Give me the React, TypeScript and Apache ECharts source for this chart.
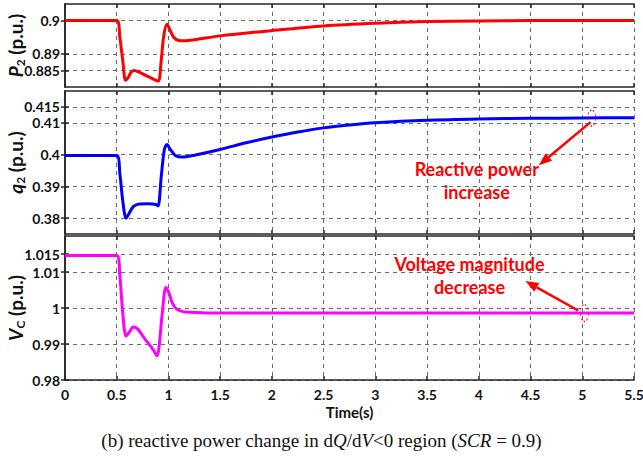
import React, { useEffect, useRef } from 'react';
import * as echarts from 'echarts';

// ---- data ----
const timeP = [0, 0.5, 0.53, 0.56, 0.585, 0.61, 0.64, 0.67, 0.72, 0.8, 0.88, 0.905, 0.93, 0.955, 0.985, 1.01, 1.05, 1.1, 1.15, 1.25, 1.5, 2, 2.5, 3, 3.5, 4, 4.5, 5.5];
const p2 = [0.9, 0.9, 0.895, 0.8875, 0.882, 0.8828, 0.8845, 0.885, 0.8844, 0.8832, 0.882, 0.8818, 0.888, 0.8955, 0.8989, 0.8975, 0.895, 0.894, 0.8939, 0.8942, 0.8954, 0.897, 0.8984, 0.8992, 0.8997, 0.8999, 0.9, 0.9];

const timeQ = [0, 0.5, 0.53, 0.56, 0.59, 0.62, 0.66, 0.71, 0.8, 0.88, 0.9, 0.93, 0.96, 0.985, 1.02, 1.07, 1.13, 1.25, 1.5, 1.75, 2, 2.25, 2.5, 2.75, 3, 3.5, 4, 4.5, 5, 5.5];
const q2 = [0.3997, 0.3997, 0.394, 0.385, 0.38, 0.3815, 0.3836, 0.3844, 0.3845, 0.3843, 0.3838, 0.393, 0.4015, 0.4032, 0.4015, 0.3996, 0.3992, 0.3998, 0.4016, 0.4037, 0.4055, 0.4071, 0.4084, 0.4093, 0.41, 0.4108, 0.4112, 0.4114, 0.4115, 0.4116];

const timeV = [0, 0.5, 0.53, 0.56, 0.59, 0.62, 0.66, 0.7, 0.77, 0.85, 0.89, 0.91, 0.94, 0.975, 1.0, 1.04, 1.08, 1.14, 1.21, 1.4, 5.5];
const vc = [1.0146, 1.0146, 1.009, 0.998, 0.9922, 0.9932, 0.9947, 0.9942, 0.9915, 0.9885, 0.9867, 0.9895, 0.9985, 1.0057, 1.0045, 1.0012, 0.9997, 0.999, 0.9988, 0.9986, 0.9986];

const pTicks = [0.885, 0.89, 0.9];
const qTicks = [0.38, 0.39, 0.4, 0.41, 0.415];
const vTicks = [0.98, 0.99, 1, 1.01, 1.015];

const yNames = ['{i|P}{s|2}{n| (p.u.)}', '{i|q}{s|2}{n| (p.u.)}', '{i|V}{s|C}{n| (p.u.)}'];

// annotations (data coordinates)
const qEllipse = [5.09, 0.4115];
const qArrow = [[5.08, 0.4102], [4.58, 0.3966]];
const qTexts: [number, number, string][] = [[3.98, 0.3953, 'Reactive power'], [3.98, 0.3881, 'increase']];
const vEllipse = [5.02, 0.9986];
const vArrow = [[4.96, 0.9993], [4.45, 1.0075]];
const vTexts: [number, number, string][] = [[3.91, 1.0122, 'Voltage magnitude'], [3.91, 1.0058, 'decrease']];

const FONT = 'Lato';
const AX = '#262626';
const GRIDC = '#6a6a6a';

const fmt = (v: number) => String(+Number(v).toFixed(4));

export default function App() {
  const ref = useRef<HTMLDivElement>(null);
  useEffect(() => {
    const chart = echarts.init(ref.current!, null, { renderer: 'svg' });
    const grids = [
      { left: 65, right: 9, top: 4, height: 83, outerBoundsMode: 'none', containLabel: false },
      { left: 65, right: 9, top: 91, height: 143, outerBoundsMode: 'none', containLabel: false },
      { left: 65, right: 9, top: 236, height: 144, outerBoundsMode: 'none', containLabel: false },
    ];
    const splitDash = { show: true, lineStyle: { color: GRIDC, type: [4, 4] as any, width: 1 } };
    const xAxes: any[] = [];
    const yAxes: any[] = [];
    const yDefs = [
      { min: 0.88, max: 0.905, ticks: pTicks },
      { min: 0.375, max: 0.42, ticks: qTicks },
      { min: 0.98, max: 1.02, ticks: vTicks },
    ];
    const rich = {
      i: { fontFamily: FONT, fontWeight: 'bold', fontStyle: 'italic', fontSize: 19, fill: '#111', lineHeight: 22 },
      s: { fontFamily: FONT, fontWeight: 'bold', fontSize: 12, fill: '#111', lineHeight: 22, verticalAlign: 'bottom', padding: [9, 0, 0, 0] },
      n: { fontFamily: FONT, fontWeight: 'bold', fontSize: 19, fill: '#111', lineHeight: 22 },
    };
    for (let g = 0; g < 3; g++) {
      xAxes.push({
        type: 'value', gridIndex: g, min: 0, max: 5.5, interval: 0.5, position: 'bottom',
        axisLine: { show: true, lineStyle: { color: AX, width: 1.5 } },
        axisTick: { show: true, inside: true, length: 4, lineStyle: { color: AX, width: 1.5 } },
        axisLabel: g === 2 ? { show: true, fontFamily: FONT, fontWeight: 'bold', fontSize: 14, color: '#111', margin: 7, formatter: fmt } : { show: false },
        splitLine: splitDash,
        name: g === 2 ? 'Time(s)' : '',
        nameLocation: 'middle', nameGap: 24,
        nameTextStyle: { fontFamily: FONT, fontWeight: 'bold', fontSize: 15, color: '#111' },
      });
      xAxes.push({
        type: 'value', gridIndex: g, min: 0, max: 5.5, interval: 0.5, position: 'top',
        axisLine: { show: true, lineStyle: { color: AX, width: 1.5 } },
        axisTick: { show: true, inside: true, length: 4, lineStyle: { color: AX, width: 1.5 } },
        axisLabel: { show: false }, splitLine: { show: false },
      });
      const d = yDefs[g];
      yAxes.push({
        type: 'value', gridIndex: g, min: d.min, max: d.max, position: 'left',
        axisLine: { show: true, lineStyle: { color: AX, width: 1.5 } },
        axisTick: { show: true, inside: true, length: 4, customValues: d.ticks, lineStyle: { color: AX, width: 1.5 } },
        axisLabel: { show: true, customValues: d.ticks, fontFamily: FONT, fontWeight: 'bold', fontSize: 14, color: '#111', margin: 5, formatter: fmt },
        splitLine: splitDash,
      });
      yAxes.push({
        type: 'value', gridIndex: g, min: d.min, max: d.max, position: 'right',
        axisLine: { show: true, lineStyle: { color: AX, width: 1.5 } },
        axisTick: { show: true, inside: true, length: 4, customValues: d.ticks, lineStyle: { color: AX, width: 1.5 } },
        axisLabel: { show: false, customValues: d.ticks }, splitLine: { show: false },
      });
    }
    const zip = (t: number[], v: number[]) => t.map((x, i) => [x, v[i]]);
    const ell = (c: number[], size: number[]) => ({
      symbol: 'circle', symbolSize: size, silent: true,
      label: { show: false },
      itemStyle: { color: 'rgba(0,0,0,0)', borderColor: '#ff0000', borderWidth: 1, borderType: [2, 2] },
      data: [{ coord: c }],
    });
    const option: any = {
      animation: false,
      grid: grids,
      xAxis: xAxes,
      yAxis: yAxes,
      title: {
        text: '(b) reactive power change in d{i|Q}/d{i|V}<0 region ({i|SCR} = 0.9)',
        left: 'center', top: 426,
        textStyle: {
          fontFamily: 'Liberation Serif', fontWeight: 'normal', fontSize: 19, color: '#111',
          rich: { i: { fontFamily: 'Liberation Serif', fontStyle: 'italic', fontSize: 19, color: '#111' } },
        },
      },
      series: [
        {
          type: 'line', xAxisIndex: 0, yAxisIndex: 0, data: zip(timeP, p2), showSymbol: false, smooth: 0.3,
          lineStyle: { color: '#ff0000', width: 3 }, itemStyle: { color: '#ff0000' },
        },
        {
          type: 'line', xAxisIndex: 2, yAxisIndex: 2, data: zip(timeQ, q2), showSymbol: false, smooth: 0.3,
          lineStyle: { color: '#0000ff', width: 3 }, itemStyle: { color: '#0000ff' },
          markPoint: ell(qEllipse, [8, 16]),
        },
        {
          type: 'line', xAxisIndex: 4, yAxisIndex: 4, data: zip(timeV, vc), showSymbol: false, smooth: 0.3,
          lineStyle: { color: '#ff00ff', width: 3 }, itemStyle: { color: '#ff00ff' },
          markPoint: ell(vEllipse, [8, 17]),
        },
      ],
    };
    chart.setOption(option);
    const graphics: any[] = [];
    const px = (gi: number, t: number, v: number) =>
      chart.convertToPixel({ xAxisIndex: gi * 2, yAxisIndex: gi * 2 } as any, [t, v]) as number[];
    yDefs.forEach((d, gi) => {
      const p = px(gi, 0, (d.min + d.max) / 2);
      graphics.push({
        type: 'text', x: p[0] - 50, y: p[1], rotation: Math.PI / 2, z: 100,
        style: { text: yNames[gi], rich, align: 'center', verticalAlign: 'middle', fill: '#111', font: `bold 19px ${FONT}` },
      });
    });
    const addTexts = (texts: [number, number, string][], gi: number) => {
      texts.forEach(([t, v, s]) => {
        const p = px(gi, t, v);
        graphics.push({
          type: 'text', x: p[0], y: p[1],
          style: { text: s, fill: '#ff0000', font: `bold 18px ${FONT}`, align: 'center', verticalAlign: 'middle' },
          z: 100,
        });
      });
    };
    const addArrow = (a: number[][], gi: number) => {
      const p0 = px(gi, a[0][0], a[0][1]);
      const p1 = px(gi, a[1][0], a[1][1]);
      const dx = p1[0] - p0[0];
      const dy = p1[1] - p0[1];
      const L = Math.sqrt(dx * dx + dy * dy);
      const ux = dx / L, uy = dy / L;
      const hl = 13, hw = 5;
      const bx = p1[0] - ux * hl, by = p1[1] - uy * hl;
      graphics.push({
        type: 'line', z: 100,
        shape: { x1: p0[0], y1: p0[1], x2: bx, y2: by },
        style: { stroke: '#ff0000', lineWidth: 2.5 },
      });
      graphics.push({
        type: 'polygon', z: 100,
        shape: { points: [[p1[0], p1[1]], [bx - uy * hw, by + ux * hw], [bx + uy * hw, by - ux * hw]] },
        style: { fill: '#ff0000' },
      });
    };
    addTexts(qTexts, 1);
    addTexts(vTexts, 2);
    addArrow(qArrow, 1);
    addArrow(vArrow, 2);
    chart.setOption({ graphic: graphics });
    return () => chart.dispose();
  }, []);
  return <div ref={ref} style={{ width: 643, height: 456, position: 'absolute', left: 0, top: 0 }} />;
}
